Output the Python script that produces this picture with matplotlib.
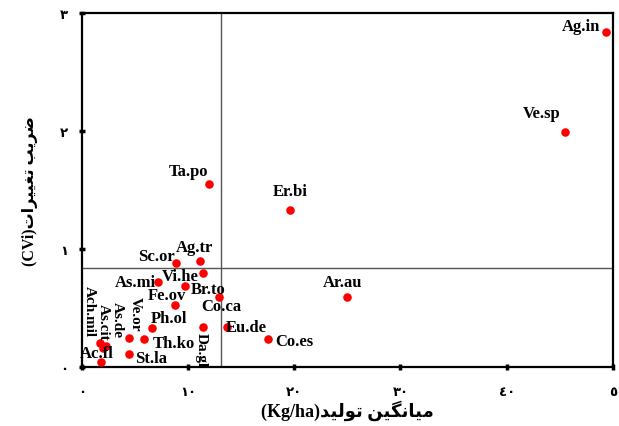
import matplotlib
matplotlib.use('Agg')
import matplotlib.pyplot as plt

# species codes, mean yield (Kg/ha) and coefficient of variation (CVi)
species = ['Ag.in', 'Ve.sp', 'Ta.po', 'Er.bi', 'Ar.au', 'Sc.or', 'Ag.tr', 'Vi.he',
           'As.mi', 'Br.to', 'Fe.ov', 'Co.ca', 'Ph.ol', 'Da.gl', 'Eu.de', 'Co.es',
           'Th.ko', 'Ve.or', 'St.la', 'Ach.mil', 'As.cit', 'As.de', 'Ac.fl']
mean_yield = [49.4, 45.5, 12.0, 19.6, 25.0, 8.9, 11.1, 11.4,
              7.2, 9.7, 8.8, 12.9, 6.6, 11.4, 13.7, 17.5,
              5.8, 4.4, 4.4, 1.7, 2.0, 2.3, 1.8]
cvi = [2.84, 1.99, 1.55, 1.33, 0.59, 0.88, 0.90, 0.80,
       0.72, 0.69, 0.53, 0.59, 0.33, 0.34, 0.34, 0.24,
       0.24, 0.25, 0.11, 0.20, 0.16, 0.18, 0.04]

# reference lines (means)
mean_x = 13.1
mean_y = 0.84

x_ticks = [0, 10, 20, 30, 40, 50]
x_ticklabels = ['٠', '١٠', '٢٠', '٣٠', '٤٠', '٥']
y_ticks = [0, 1, 2, 3]
y_ticklabels = ['٠', '١', '٢', '٣']

# label offsets in pixels (dx, dy) and rotation
label_pos = {
    'Ag.in': (-25, 6, 0), 'Ve.sp': (-23, 19, 0), 'Ta.po': (-21, 13, 0),
    'Er.bi': (0, 19, 0), 'Ar.au': (-5, 15, 0), 'Sc.or': (-20, 7, 0),
    'Ag.tr': (-5, 14, 0), 'Vi.he': (-23, -3, 0), 'As.mi': (-23, 0, 0),
    'Br.to': (23, -3, 0), 'Fe.ov': (-8, 10, 0), 'Co.ca': (2, -9, 0),
    'Ph.ol': (17, 10, 0), 'Da.gl': (-2, -22, 270), 'Eu.de': (19, 0, 0),
    'Co.es': (27, -2, 0), 'Th.ko': (30, -4, 0), 'Ve.or': (7, 24, 270),
    'St.la': (22, -4, 0), 'Ach.mil': (-11, 33, 270), 'As.cit': (0, 27, 270),
    'As.de': (11, 27, 270), 'Ac.fl': (-4, 9, 0),
}

# minimal Persian shaping (presentation forms) since matplotlib has no RTL support
FORMS = {
    'ا': ('\uFE8D', '\uFE8E', None, None),
    'ب': ('\uFE8F', '\uFE90', '\uFE91', '\uFE92'),
    'ت': ('\uFE95', '\uFE96', '\uFE97', '\uFE98'),
    'د': ('\uFEA9', '\uFEAA', None, None),
    'ر': ('\uFEAD', '\uFEAE', None, None),
    'ض': ('\uFEBD', '\uFEBE', '\uFEBF', '\uFEC0'),
    'غ': ('\uFECD', '\uFECE', '\uFECF', '\uFED0'),
    'ل': ('\uFEDD', '\uFEDE', '\uFEDF', '\uFEE0'),
    'م': ('\uFEE1', '\uFEE2', '\uFEE3', '\uFEE4'),
    'ن': ('\uFEE5', '\uFEE6', '\uFEE7', '\uFEE8'),
    'و': ('\uFEED', '\uFEEE', None, None),
    'ی': ('\uFBFC', '\uFBFD', '\uFBFE', '\uFBFF'),
    'گ': ('\uFB92', '\uFB93', '\uFB94', '\uFB95'),
}


def dual(ch):
    return ch in FORMS and FORMS[ch][2] is not None


def fa(text):
    out = []
    for i, ch in enumerate(text):
        if ch not in FORMS:
            out.append(ch)
            continue
        prev = text[i - 1] if i > 0 else ''
        nxt = text[i + 1] if i + 1 < len(text) else ''
        jp = dual(prev)
        jn = dual(ch) and nxt in FORMS
        iso, fin, ini, med = FORMS[ch]
        if jp and jn:
            out.append(med)
        elif jp:
            out.append(fin)
        elif jn:
            out.append(ini)
        else:
            out.append(iso)
    return ''.join(reversed(out))


plt.rcParams['font.family'] = ['Liberation Serif', 'DejaVu Sans']

fig = plt.figure(figsize=(6.19, 4.27), dpi=100)
ax = fig.add_axes([0.1325, 0.138, 0.8575, 0.829])

ax.axhline(mean_y, color='#555555', lw=1, zorder=1)
ax.axvline(mean_x, color='#555555', lw=1, zorder=1)
ax.scatter(mean_yield, cvi, s=38, color='#ff0000', zorder=3, linewidths=0)

for name, x, y in zip(species, mean_yield, cvi):
    dx, dy, rot = label_pos[name]
    ax.annotate(name, (x, y), xytext=(dx, dy), textcoords='offset pixels',
                ha='center', va='center', rotation=rot,
                fontsize=11 if rot else 12,
                fontweight='bold', family='Liberation Serif', zorder=4)

ax.set_xlim(0, 50)
ax.set_ylim(0, 3)
ax.set_xticks(x_ticks)
ax.set_xticklabels(x_ticklabels, family='DejaVu Sans', fontweight='bold', fontsize=9.5)
ax.set_yticks(y_ticks)
ax.set_yticklabels(y_ticklabels, family='DejaVu Sans', fontweight='bold', fontsize=9.5)
ax.tick_params(axis='both', direction='inout', length=4, width=2.5)
ax.tick_params(axis='x', pad=11)
ax.tick_params(axis='y', pad=8)
for sp in ax.spines.values():
    sp.set_linewidth(1.6)

ax.set_xlabel('(Kg/ha)' + fa('میانگین تولید'), fontsize=13, fontweight='bold',
              family=['Liberation Serif', 'DejaVu Sans'], labelpad=1)
ax.set_ylabel('(CVi)' + fa('ضریب تغییرات'), fontsize=11.5, fontweight='bold',
              family=['Liberation Serif', 'DejaVu Sans'], labelpad=16)

fig.savefig('out.png', dpi=100)
